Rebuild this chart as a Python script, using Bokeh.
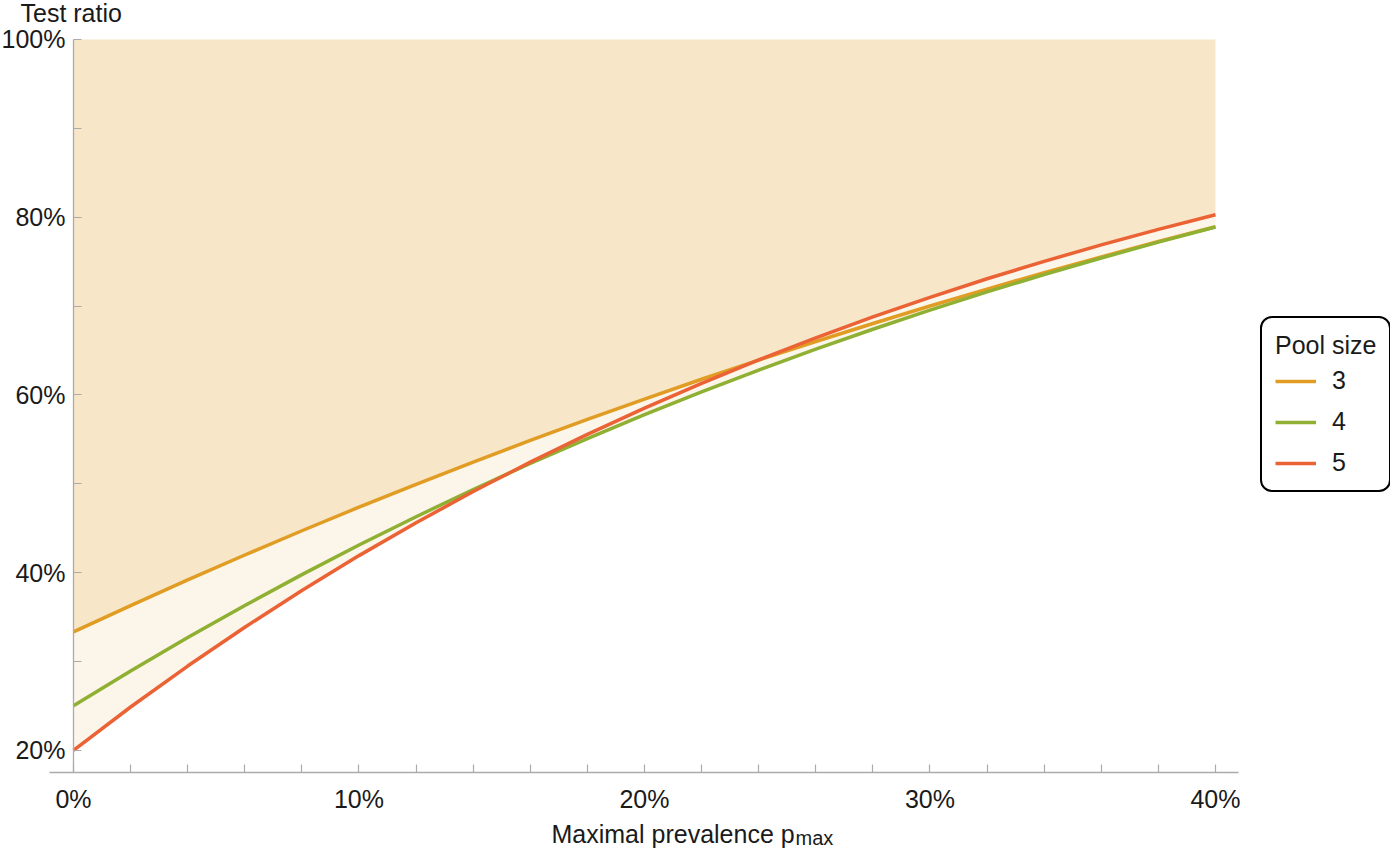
import numpy as np
from bokeh.plotting import figure
from bokeh.models import (Range1d, FixedTicker, NumeralTickFormatter, Legend,
                          LegendItem, Label)
from bokeh.embed import file_html
from bokeh.resources import INLINE

# ---------------- data ----------------
prevalence = [0.00, 0.02, 0.04, 0.06, 0.08, 0.10, 0.12, 0.14, 0.16, 0.18, 0.20,
              0.22, 0.24, 0.26, 0.28, 0.30, 0.32, 0.34, 0.36, 0.38, 0.40]
ratio_pool3 = [0.3333, 0.3629, 0.3917, 0.4198, 0.4471, 0.4736, 0.4994, 0.5244,
               0.5488, 0.5724, 0.5953, 0.6176, 0.6392, 0.6601, 0.6804, 0.7001,
               0.7191, 0.7376, 0.7554, 0.7727, 0.7893]
ratio_pool4 = [0.2500, 0.2892, 0.3269, 0.3630, 0.3977, 0.4310, 0.4629, 0.4935,
               0.5228, 0.5508, 0.5777, 0.6034, 0.6280, 0.6515, 0.6739, 0.6954,
               0.7159, 0.7354, 0.7541, 0.7719, 0.7889]
ratio_pool5 = [0.2000, 0.2487, 0.2948, 0.3385, 0.3799, 0.4191, 0.4561, 0.4912,
               0.5243, 0.5556, 0.5851, 0.6130, 0.6394, 0.6642, 0.6877, 0.7098,
               0.7307, 0.7503, 0.7689, 0.7863, 0.8028]
pool_sizes = ["3", "4", "5"]
pool_colors = ["#E19C24", "#8FB032", "#EB6235"]

x_major_ticks = [0.0, 0.1, 0.2, 0.3, 0.4]
x_minor_ticks = [0.02, 0.04, 0.06, 0.08, 0.12, 0.14, 0.16, 0.18, 0.22, 0.24,
                 0.26, 0.28, 0.32, 0.34, 0.36, 0.38]
y_major_ticks = [0.2, 0.4, 0.6, 0.8, 1.0]
y_minor_ticks = [0.3, 0.5, 0.7, 0.9]

y_title = "Test ratio"
x_title = "Maximal prevalence p"
x_title_sub = "max"
legend_title = "Pool size"

FONT = "Liberation Sans"
TEXT = "#1a1a1a"
AXIS = "#ababab"

# axes cross at (0, 17.5%); the x axis line runs slightly past the data
x_axis_bounds = (-0.0084, 0.408)
y_axis_bounds = (0.175, 1.0)

# ---------------- figure ----------------
# the frame covers the whole canvas; axes are placed at fixed positions inside it
p = figure(width=1390, height=848, output_backend="svg", toolbar_location=None,
           x_range=Range1d(-0.02557, 0.46130), y_range=Range1d(0.08946, 1.04389),
           min_border_left=0, min_border_right=0, min_border_top=0,
           min_border_bottom=0)
p.title.visible = False
p.outline_line_color = None
p.xgrid.visible = False
p.ygrid.visible = False
p.background_fill_color = "white"
p.border_fill_color = "white"

series = [ratio_pool3, ratio_pool4, ratio_pool5]
arr = np.array(series)
upper = arr.max(axis=0)
lower = arr.min(axis=0)

p.varea(x=prevalence, y1=upper, y2=1.0, fill_color=pool_colors[0], fill_alpha=0.25)
p.varea(x=prevalence, y1=lower, y2=upper, fill_color=pool_colors[0], fill_alpha=0.10)

renderers = []
for ys, col in zip(series, pool_colors):
    r = p.line(prevalence, ys, line_color=col, line_width=3.5, line_join="round")
    renderers.append(r)

# ---------------- axes ----------------
for ax in (p.xaxis[0], p.yaxis[0]):
    ax.axis_line_color = AXIS
    ax.axis_line_width = 1.3
    ax.major_tick_line_color = AXIS
    ax.minor_tick_line_color = AXIS
    ax.major_tick_line_width = 1.2
    ax.minor_tick_line_width = 1.2
    ax.major_tick_in = 8
    ax.major_tick_out = 0
    ax.minor_tick_in = 8
    ax.minor_tick_out = 0
    ax.major_label_text_font = FONT
    ax.major_label_text_font_size = "25px"
    ax.major_label_text_color = TEXT
    ax.formatter = NumeralTickFormatter(format="0%")

p.xaxis[0].ticker = FixedTicker(ticks=x_major_ticks, minor_ticks=x_minor_ticks)
p.yaxis[0].ticker = FixedTicker(ticks=y_major_ticks, minor_ticks=y_minor_ticks)
p.xaxis[0].major_label_standoff = 13
p.yaxis[0].major_label_standoff = 8
p.xaxis[0].fixed_location = y_axis_bounds[0]
p.yaxis[0].fixed_location = 0.0
p.xaxis[0].bounds = x_axis_bounds
p.yaxis[0].bounds = y_axis_bounds

# ---------------- texts ----------------
p.add_layout(Label(x=20, y=836, x_units="screen", y_units="screen", text=y_title,
                   text_font=FONT, text_font_size="25px", text_color=TEXT,
                   text_baseline="alphabetic"))
p.add_layout(Label(x=551, y=15, x_units="screen", y_units="screen", text=x_title,
                   text_font=FONT, text_font_size="25px", text_color=TEXT,
                   text_baseline="alphabetic"))
p.add_layout(Label(x=795, y=11, x_units="screen", y_units="screen", text=x_title_sub,
                   text_font=FONT, text_font_size="20px", text_color=TEXT,
                   text_baseline="alphabetic"))

# ---------------- legend ----------------
legend = Legend(items=[LegendItem(label=s, renderers=[r]) for s, r in zip(pool_sizes, renderers)],
                title=legend_title, location=(1260, 356))
legend.title_text_font = FONT
legend.title_text_font_size = "25px"
legend.title_text_font_style = "normal"
legend.title_text_color = TEXT
legend.title_standoff = 6
legend.label_text_font = FONT
legend.label_text_font_size = "25px"
legend.label_text_color = TEXT
legend.padding = 13
legend.spacing = 12
legend.margin = 0
legend.glyph_width = 41
legend.glyph_height = 28
legend.label_height = 28
legend.label_width = 14
legend.label_standoff = 16
legend.border_line_color = "black"
legend.border_line_alpha = 1.0
legend.border_line_width = 2.2
legend.background_fill_color = "white"
legend.background_fill_alpha = 1.0
try:
    legend.border_radius = 12
except Exception:
    pass
p.add_layout(legend)

open("out.html", "w").write(file_html(p, INLINE))
